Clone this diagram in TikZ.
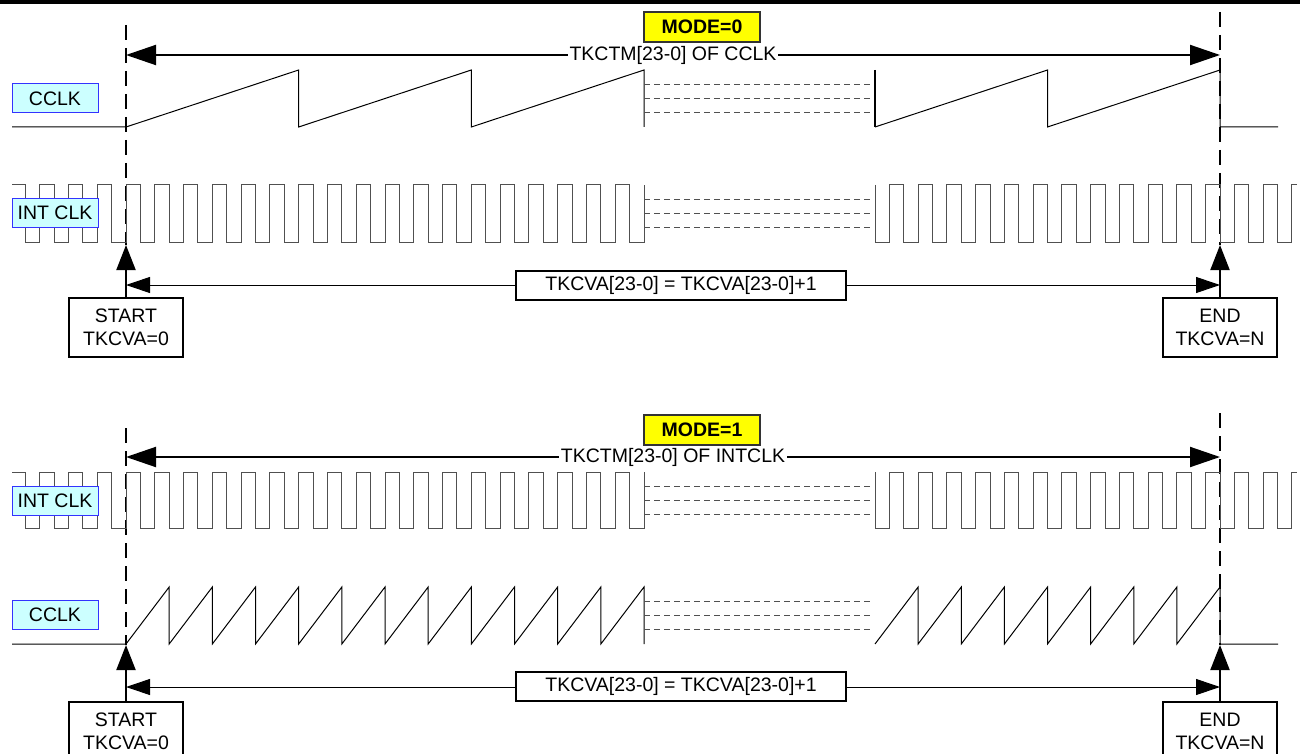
\documentclass[tikz,border=0pt]{standalone}
\usepackage{fontspec}
\setmainfont{Liberation Sans}
\usetikzlibrary{arrows.meta, positioning}
\definecolor{sigfill}{HTML}{CCFFFF}
\definecolor{sigdraw}{HTML}{3333FF}
\definecolor{modefill}{HTML}{FFFF00}
\definecolor{wavegray}{HTML}{505050}

\begin{document}
\begin{tikzpicture}[x=1pt, y=-1pt, font=\fontsize{19.5}{23}\selectfont,
    sigbox/.style={draw=sigdraw, fill=sigfill, line width=1pt, minimum width=86pt, minimum height=29pt, inner sep=0pt},
    modebox/.style={draw=black!80, fill=modefill, line width=1.5pt, font=\fontsize{19.5}{23}\selectfont\bfseries, minimum width=116pt, minimum height=30pt, inner sep=0pt},
    cntbox/.style={draw, fill=white, line width=2pt, align=center, minimum width=114pt, minimum height=59pt, inner sep=0pt},
    incbox/.style={draw, fill=white, line width=1.5pt, minimum width=330pt, minimum height=29pt, inner sep=0pt},
    limit/.style={line width=2.5pt, dash pattern=on 15pt off 8pt},
    span/.style={line width=2pt, {Triangle[length=30pt,width=20pt]}-{Triangle[length=30pt,width=20pt]}},
    tally/.style={line width=1pt, {Triangle[length=24pt,width=16pt]}-{Triangle[length=24pt,width=16pt]}},
    trig/.style={line width=2pt, -{Triangle[length=25pt,width=19pt]}},
    wave/.style={line width=1pt, wavegray},
    saw/.style={line width=1pt, black},
    gapline/.style={line width=1pt, wavegray, dash pattern=on 6pt off 4pt},
    over/.style={fill=white, inner xsep=1.5pt, inner ysep=0pt}]

    \useasboundingbox (0,0) rectangle (1300,754);
    \draw[line width=4pt] (0,2) -- (1300,2);

    % MODE=0
    \draw[limit] (126,25) -- (126,245);
    \draw[limit] (1220,12) -- (1220,245);
    \coordinate (spanA1) at (126,55);
    \coordinate (spanA2) at (1220,55);
    \draw[span] (spanA1) -- node[over] {TKCTM[23-0] OF CCLK} (spanA2);
    \node[modebox] (mode0) at (702,27) {MODE=0};

    % CCLK
    \draw[saw] (12,127) -- (126,127) \foreach \i in {1,2,3} { -- ({126+\i*172.667},70) -- ({126+\i*172.667},127) };
    \foreach \y in {84.25,98.5,112.75} \draw[gapline] (644,\y) -- (872,\y);
    \draw[line width=2pt] (875,70) -- (875,127);
    \draw[saw] (875,127) \foreach \i in {1,2} { -- ({875+\i*172.5},70) -- ({875+\i*172.5},127) } -- (1278,127);
    \node[sigbox] (cclkA) at (55,98.5) {CCLK};

    % INT CLK
    \draw[wave] (12,185) \foreach \i in {0,...,21} { -- ({25.3+2*\i*14.389},185) -- ({25.3+2*\i*14.389},242) -- ({25.3+(2*\i+1)*14.389},242) -- ({25.3+(2*\i+1)*14.389},185) };
    \foreach \y in {199.25,213.5,227.75} \draw[gapline] (644,\y) -- (872,\y);
    \draw[wave] (875,185) \foreach \i in {0,...,14} { -- ({875+2*\i*14.375},185) -- ({875+2*\i*14.375},242) -- ({875+(2*\i+1)*14.375},242) -- ({875+(2*\i+1)*14.375},185) } -- (1297,185);
    \node[sigbox] (intA) at (55,213) {INT CLK};

    % count
    \node[cntbox] (startA) at (126,327.5) {START\\TKCVA=0};
    \node[cntbox] (endA) at (1220,327.5) {END\\TKCVA=N};
    \coordinate (trigA1) at (126,245);
    \coordinate (trigA2) at (1220,245);
    \draw[trig] (startA.north) -- (trigA1);
    \draw[trig] (endA.north) -- (trigA2);
    \coordinate (tallyA1) at (126,285);
    \coordinate (tallyA2) at (1220,285);
    \draw[tally] (tallyA1) -- (tallyA2);
    \node[incbox] (incA) at (681,285.5) {TKCVA[23-0] = TKCVA[23-0]+1};

    % MODE=1
    \draw[limit] (126,428) -- (126,645);
    \draw[limit] (1220,413) -- (1220,645);
    \coordinate (spanB1) at (126,457);
    \coordinate (spanB2) at (1220,457);
    \draw[span] (spanB1) -- node[over] {TKCTM[23-0] OF INTCLK} (spanB2);
    \node[modebox] (mode1) at (702,430) {MODE=1};

    % INT CLK
    \draw[wave] (12,472) \foreach \i in {0,...,21} { -- ({25.3+2*\i*14.389},472) -- ({25.3+2*\i*14.389},528) -- ({25.3+(2*\i+1)*14.389},528) -- ({25.3+(2*\i+1)*14.389},472) };
    \foreach \y in {486,500,514} \draw[gapline] (644,\y) -- (872,\y);
    \draw[wave] (875,472) \foreach \i in {0,...,14} { -- ({875+2*\i*14.375},472) -- ({875+2*\i*14.375},528) -- ({875+(2*\i+1)*14.375},528) -- ({875+(2*\i+1)*14.375},472) } -- (1297,472);
    \node[sigbox] (intB) at (55,500.5) {INT CLK};

    % CCLK
    \draw[saw] (12,644) -- (126,644) \foreach \i in {1,...,12} { -- ({126+\i*43.167},587) -- ({126+\i*43.167},644) };
    \foreach \y in {601.25,615.5,629.75} \draw[gapline] (644,\y) -- (872,\y);
    \draw[saw] (875,644) \foreach \i in {1,...,8} { -- ({875+\i*43.125},587) -- ({875+\i*43.125},644) } -- (1278,644);
    \node[sigbox] (cclkB) at (55,615) {CCLK};

    % count
    \node[cntbox] (startB) at (126,731.5) {START\\TKCVA=0};
    \node[cntbox] (endB) at (1220,731.5) {END\\TKCVA=N};
    \coordinate (trigB1) at (126,645);
    \coordinate (trigB2) at (1220,645);
    \draw[trig] (startB.north) -- (trigB1);
    \draw[trig] (endB.north) -- (trigB2);
    \coordinate (tallyB1) at (126,687);
    \coordinate (tallyB2) at (1220,687);
    \draw[tally] (tallyB1) -- (tallyB2);
    \node[incbox] (incB) at (681,686.5) {TKCVA[23-0] = TKCVA[23-0]+1};
\end{tikzpicture}
\end{document}
